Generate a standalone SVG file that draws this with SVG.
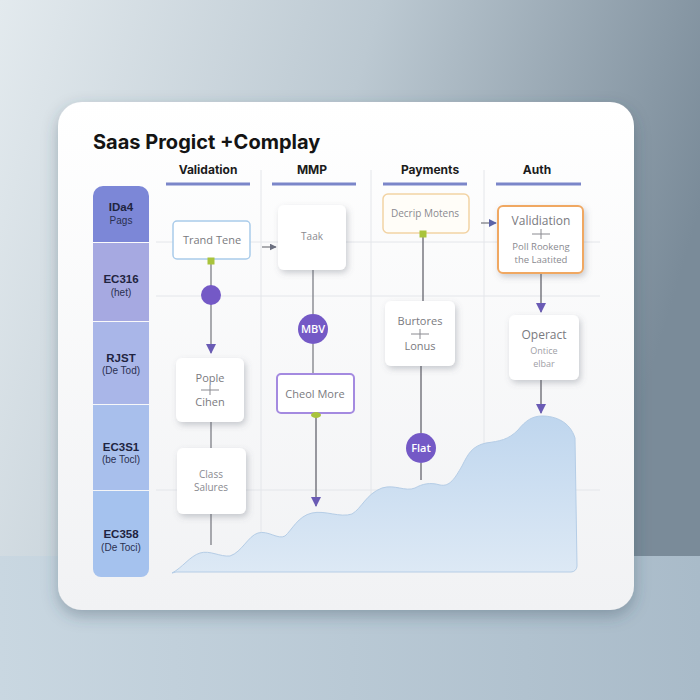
<svg xmlns="http://www.w3.org/2000/svg" width="700" height="700" viewBox="0 0 700 700">
<defs>
<linearGradient id="bg" x1="0" y1="0" x2="1" y2="0.3">
<stop offset="0" stop-color="#e3eaee"/>
<stop offset="0.5" stop-color="#bcc9d2"/>
<stop offset="1" stop-color="#7a8b99"/>
</linearGradient>
<linearGradient id="floor" x1="0" y1="0" x2="1" y2="0">
<stop offset="0" stop-color="#c9d7e1"/>
<stop offset="1" stop-color="#a9bbc9"/>
</linearGradient>
<linearGradient id="card" x1="0" y1="0" x2="0" y2="1">
<stop offset="0" stop-color="#ffffff"/>
<stop offset="1" stop-color="#f1f2f4"/>
</linearGradient>
<linearGradient id="area" x1="0" y1="0" x2="0" y2="1">
<stop offset="0" stop-color="#bfd6ee"/>
<stop offset="1" stop-color="#dde9f5"/>
</linearGradient>
<filter id="cardsh" x="-10%" y="-10%" width="120%" height="125%">
<feDropShadow dx="0" dy="6" stdDeviation="8" flood-color="#34485a" flood-opacity="0.35"/>
</filter>
<filter id="sh" x="-30%" y="-30%" width="160%" height="160%">
<feDropShadow dx="2" dy="3" stdDeviation="3" flood-color="#5a6270" flood-opacity="0.3"/>
</filter>
<marker id="ap" viewBox="0 0 10 10" refX="9" refY="5" markerWidth="10" markerHeight="10" markerUnits="userSpaceOnUse" orient="auto">
<path d="M0,0 L10,5 L0,10 z" fill="#6a5bb5"/>
</marker>
<marker id="ag" viewBox="0 0 10 10" refX="9" refY="5" markerWidth="7" markerHeight="7" markerUnits="userSpaceOnUse" orient="auto">
<path d="M0,0 L10,5 L0,10 z" fill="#6c7080"/>
</marker>
<marker id="ai" viewBox="0 0 10 10" refX="9" refY="5" markerWidth="8" markerHeight="8" markerUnits="userSpaceOnUse" orient="auto">
<path d="M0,0 L10,5 L0,10 z" fill="#5c64a8"/>
</marker>
<style>
.title{font-family:Inter,"Liberation Sans",sans-serif;font-weight:700;font-size:20px;fill:#141414}
.hdr{font-family:Inter,"Liberation Sans",sans-serif;font-weight:700;font-size:12px;fill:#1c1c1c;text-anchor:middle}
.bar{stroke:#7b86c9;stroke-width:3}
.grid{stroke:#e4e6ea;stroke-width:1}
.lane1{font-family:"Liberation Sans",sans-serif;font-weight:700;font-size:11.5px;fill:#1f2440;text-anchor:middle}
.lane2{font-family:"Liberation Sans",sans-serif;font-size:10px;fill:#2a3050;text-anchor:middle}
.box{fill:#ffffff}
.lbl{font-family:"Open Sans","Liberation Sans",sans-serif;font-size:11px;fill:#7a7a80;text-anchor:middle}
.lbls{font-family:"Open Sans","Liberation Sans",sans-serif;font-size:10px;fill:#8a8a90;text-anchor:middle}
.ctext{font-family:"Open Sans","Liberation Sans",sans-serif;font-size:11px;fill:#ffffff;text-anchor:middle;font-weight:600}
.circ{fill:#7459c6}
.ln{stroke:#7d7f86;stroke-width:1.3;fill:none}
.lp{stroke:#6f6f78;stroke-width:1.4;fill:none}
.plus{stroke:#8a8a90;stroke-width:1}
.knob{fill:#a9c43c}
</style>
</defs>

<rect width="700" height="700" fill="url(#bg)"/>
<rect x="0" y="556" width="700" height="144" fill="url(#floor)"/>

<rect x="58" y="102" width="576" height="508" rx="24" fill="url(#card)" filter="url(#cardsh)"/>

<text class="title" x="93" y="149">Saas Progict +Complay</text>

<g id="grid">
<line class="grid" x1="261" y1="170" x2="261" y2="548"/>
<line class="grid" x1="371" y1="170" x2="371" y2="548"/>
<line class="grid" x1="484" y1="170" x2="484" y2="548"/>
<line class="grid" x1="156" y1="242" x2="600" y2="242"/>
<line class="grid" x1="156" y1="296" x2="600" y2="296"/>
<line class="grid" x1="156" y1="490" x2="600" y2="490"/>
</g>

<g id="headers">
<text class="hdr" x="208" y="174">Validation</text>
<line class="bar" x1="166" y1="184" x2="250" y2="184"/>
<text class="hdr" x="312" y="174">MMP</text>
<line class="bar" x1="272" y1="184" x2="356" y2="184"/>
<text class="hdr" x="430" y="174">Payments</text>
<line class="bar" x1="383" y1="184" x2="467" y2="184"/>
<text class="hdr" x="537" y="174">Auth</text>
<line class="bar" x1="496" y1="184" x2="581" y2="184"/>
</g>

<g id="lanes">
<path d="M93,242 V196 a10,10 0 0 1 10,-10 H139 a10,10 0 0 1 10,10 V242 z" fill="#7c87d7"/>
<rect x="93" y="243" width="56" height="78" fill="#a6a9e1"/>
<rect x="93" y="322" width="56" height="82" fill="#a9b6e8"/>
<rect x="93" y="405" width="56" height="85" fill="#a8bfec"/>
<path d="M93,491 H149 V569 a8,8 0 0 1 -8,8 H101 a8,8 0 0 1 -8,-8 z" fill="#a5c2ee"/>
<text class="lane1" x="121" y="211">IDa4</text>
<text class="lane2" x="121" y="224">Pags</text>
<text class="lane1" x="121" y="283">EC316</text>
<text class="lane2" x="121" y="296">(het)</text>
<text class="lane1" x="121" y="362">RJST</text>
<text class="lane2" x="121" y="374">(De Tod)</text>
<text class="lane1" x="121" y="451">EC3S1</text>
<text class="lane2" x="121" y="463">(be Tocl)</text>
<text class="lane1" x="121" y="538">EC358</text>
<text class="lane2" x="121" y="551">(De Toci)</text>
</g>

<path id="chart" d="M172,573 C182,568 190,556 200,553 C210,550 220,557 230,556 C242,552 248,536 258,533 C268,530 278,540 285,536 C292,530 298,516 312,513 C325,510 340,518 352,514 C362,508 366,494 382,488 C395,484 405,492 415,488 C422,484 430,482 440,485 C450,487 455,478 462,466 C468,454 472,446 486,443 C500,441 508,440 518,430 C526,420 533,416 542,416 C556,416 570,422 575,438 L577,566 a6,6 0 0 1 -6,6 H176 z" fill="url(#area)" stroke="#b5cde6" stroke-width="1"/>

<g id="connectors">
<line class="ln" x1="211" y1="262" x2="211" y2="353" marker-end="url(#ap)"/>
<line class="ln" x1="211" y1="422" x2="211" y2="448"/>
<line class="ln" x1="211" y1="514" x2="211" y2="545"/>
<line class="ln" x1="262" y1="247" x2="276" y2="247" marker-end="url(#ag)"/>
<line class="ln" x1="313" y1="270" x2="313" y2="314"/>
<line class="ln" x1="313" y1="344" x2="313" y2="374"/>
<line class="lp" x1="316" y1="414" x2="316" y2="506" marker-end="url(#ap)"/>
<line class="lp" x1="423" y1="234" x2="423" y2="301"/>
<line class="lp" x1="421" y1="366" x2="421" y2="433"/>
<line class="lp" x1="421" y1="463" x2="421" y2="480"/>
<line class="ln" x1="481" y1="223" x2="496" y2="223" marker-end="url(#ai)"/>
<line class="lp" x1="541" y1="273" x2="541" y2="312" marker-end="url(#ap)"/>
<line class="lp" x1="541" y1="380" x2="541" y2="413" marker-end="url(#ap)"/>
</g>

<g id="n-trand">
<rect class="box" x="173" y="221" width="77" height="38" rx="4" stroke="#a9cbea" stroke-width="1.5"/>
<text class="lbl" x="212" y="244">Trand Tene</text>
<rect class="knob" x="207.5" y="257.5" width="7" height="7"/>
</g>
<g id="c-dot1">
<circle class="circ" cx="211" cy="295" r="10"/>
</g>
<g id="n-pople">
<rect class="box" x="176" y="358" width="68" height="64" rx="6" filter="url(#sh)"/>
<text class="lbl" x="210" y="382">Pople</text>
<line class="plus" x1="201" y1="390" x2="219" y2="390"/>
<line class="plus" x1="210" y1="385" x2="210" y2="395"/>
<text class="lbl" x="210" y="406">Cihen</text>
</g>
<g id="n-class">
<rect class="box" x="177" y="448" width="69" height="66" rx="6" filter="url(#sh)"/>
<text class="lbls" x="211" y="478">Class</text>
<text class="lbls" x="211" y="491">Salures</text>
</g>

<g id="n-taak">
<rect class="box" x="278" y="205" width="68" height="65" rx="6" filter="url(#sh)"/>
<text class="lbls" x="312" y="240">Taak</text>
</g>
<g id="n-mbv">
<circle class="circ" cx="313" cy="329" r="15"/>
<text class="ctext" x="313" y="333">MBV</text>
</g>
<g id="n-cheol">
<rect class="box" x="277" y="374" width="77" height="39" rx="4" stroke="#a48ae0" stroke-width="2"/>
<text class="lbl" x="315" y="398">Cheol More</text>
<ellipse class="knob" cx="316" cy="415" rx="5" ry="3"/>
</g>

<g id="n-decrip">
<rect x="383" y="194" width="86" height="39" rx="5" fill="#fffdf8" stroke="#f2d3a4" stroke-width="1.5"/>
<text class="lbls" x="425" y="217">Decrip Motens</text>
<rect class="knob" x="419.5" y="230.5" width="7" height="7"/>
</g>
<g id="n-burtores">
<rect class="box" x="385" y="301" width="70" height="65" rx="6" filter="url(#sh)"/>
<text class="lbl" x="420" y="325">Burtores</text>
<line class="plus" x1="411" y1="334" x2="429" y2="334"/>
<line class="plus" x1="420" y1="329" x2="420" y2="339"/>
<text class="lbl" x="420" y="350">Lonus</text>
</g>
<g id="n-flat">
<circle class="circ" cx="421" cy="448" r="15"/>
<text class="ctext" x="421" y="452">Flat</text>
</g>

<g id="n-validiation">
<rect class="box" x="498" y="206" width="85" height="67" rx="5" stroke="#f0a862" stroke-width="2" filter="url(#sh)"/>
<text class="lbl" x="541" y="225" style="font-size:12px">Validiation</text>
<line class="plus" x1="532" y1="234" x2="550" y2="234"/>
<line class="plus" x1="541" y1="229" x2="541" y2="239"/>
<text class="lbls" x="541" y="250" style="font-size:9.5px">Poll Rookeng</text>
<text class="lbls" x="541" y="263" style="font-size:9.5px">the Laatited</text>
</g>
<g id="n-operact">
<rect class="box" x="509" y="315" width="70" height="65" rx="6" filter="url(#sh)"/>
<text class="lbl" x="544" y="339" style="font-size:12px">Operact</text>
<text class="lbls" x="544" y="354" style="fill:#a0a0a6;font-size:9px">Ontice</text>
<text class="lbls" x="544" y="367" style="fill:#a0a0a6;font-size:9px">elbar</text>
</g>
</svg>
